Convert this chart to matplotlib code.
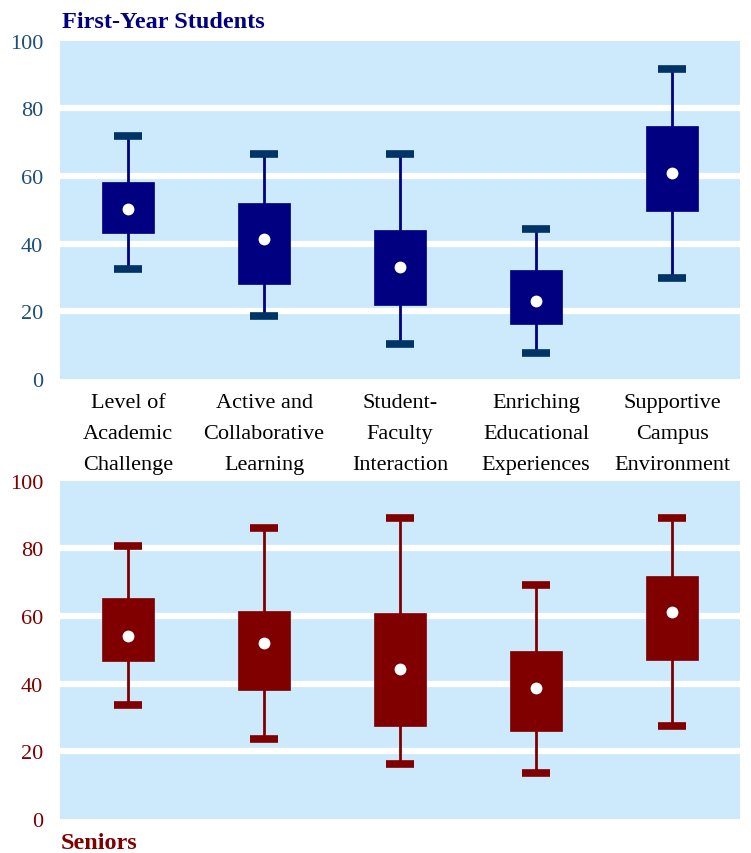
import matplotlib
matplotlib.use('Agg')
import matplotlib.pyplot as plt

# benchmark categories (three-line labels)
categories = [
    "Level of\nAcademic\nChallenge",
    "Active and\nCollaborative\nLearning",
    "Student-\nFaculty\nInteraction",
    "Enriching\nEducational\nExperiences",
    "Supportive\nCampus\nEnvironment",
]

# first-year students: whisker low/high, box q1/q3, mean dot
fy_low = [32.5, 18.5, 10.5, 7.8, 30.0]
fy_q1 = [43.3, 28.2, 22.0, 16.3, 49.8]
fy_mid = [50.3, 41.3, 33.0, 23.0, 61.0]
fy_q3 = [58.2, 52.0, 44.0, 32.1, 74.8]
fy_high = [71.9, 66.6, 66.6, 44.3, 91.6]

# seniors
sr_low = [33.6, 23.6, 16.2, 13.6, 27.4]
sr_q1 = [46.8, 38.1, 27.6, 26.1, 47.0]
sr_mid = [54.2, 52.0, 44.4, 38.7, 61.1]
sr_q3 = [65.2, 61.6, 60.9, 49.6, 71.9]
sr_high = [80.7, 85.9, 88.9, 69.2, 88.9]

yticks = [0, 20, 40, 60, 80, 100]

plt.rcParams['font.family'] = ['Liberation Serif', 'DejaVu Serif']

fig = plt.figure(figsize=(7.51, 8.54), dpi=100)
ax_top = fig.add_axes([0.0799, 0.555, 0.9055, 0.396])
ax_bot = fig.add_axes([0.0799, 0.040, 0.9055, 0.396])

BG = '#cceafb'


def draw_panel(ax, low, q1, mid, q3, high, box_color, cap_color, tick_color):
    ax.set_facecolor(BG)
    for s in ax.spines.values():
        s.set_visible(False)
    ax.set_xlim(-0.5, len(categories) - 0.5)
    ax.set_ylim(0, 100)
    for g in yticks[1:-1]:
        ax.axhline(g, color='white', lw=4.5, zorder=1)

    stats = []
    for lo, a, m, b, hi in zip(low, q1, mid, q3, high):
        stats.append(dict(whislo=lo, q1=a, med=m, q3=b, whishi=hi, fliers=[]))
    ax.bxp(stats, positions=range(len(categories)), widths=0.38,
           capwidths=0.21, patch_artist=True, showfliers=False,
           boxprops=dict(facecolor=box_color, edgecolor=box_color, lw=0.5),
           whiskerprops=dict(color=box_color, lw=2),
           capprops=dict(color=cap_color, lw=5.5, solid_capstyle='butt'),
           medianprops=dict(visible=False), zorder=3)
    ax.plot(range(len(categories)), mid, 'o', color='white', ms=7.5,
            mec='white', zorder=5)

    ax.set_yticks(yticks)
    ax.set_yticklabels([str(t) for t in yticks], color=tick_color, fontsize=16)
    ax.tick_params(axis='y', length=0, pad=12)


draw_panel(ax_top, fy_low, fy_q1, fy_mid, fy_q3, fy_high,
           '#000080', '#003366', '#1f4e79')
ax_top.set_xticks(range(len(categories)))
ax_top.set_xticklabels(categories, fontsize=16, color='black', linespacing=1.85)
ax_top.tick_params(axis='x', length=0, pad=10)

draw_panel(ax_bot, sr_low, sr_q1, sr_mid, sr_q3, sr_high,
           '#800000', '#800000', '#800000')
ax_bot.set_xticks([])

fig.text(0.082, 0.974, "First-Year Students", fontsize=17.5, fontweight='bold',
         color='#000080', va='center', ha='left')
fig.text(0.081, 0.0125, "Seniors", fontsize=17.5, fontweight='bold',
         color='#800000', va='center', ha='left')

fig.savefig('out.png', dpi=100)
